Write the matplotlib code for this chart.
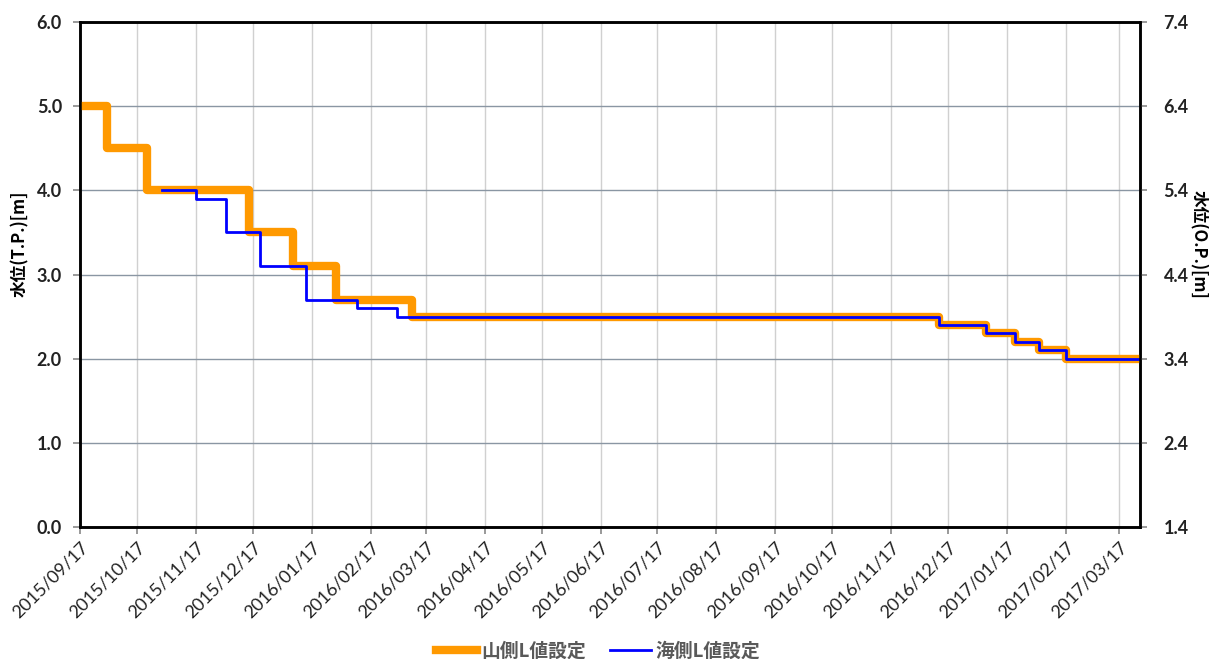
import matplotlib
matplotlib.use('Agg')
import matplotlib.pyplot as plt
import matplotlib.dates as mdates
import numpy as np
from datetime import datetime

plt.rcParams['font.family'] = ['Noto Sans CJK JP', 'DejaVu Sans']

# 山側L値設定 (step changes)
yama_dates = ['2015-09-17', '2015-10-01', '2015-10-22', '2015-12-15', '2016-01-07',
              '2016-01-30', '2016-03-10', '2016-12-12', '2017-01-06', '2017-01-21',
              '2017-02-03', '2017-02-17', '2017-03-28']
yama_vals = [5.0, 4.5, 4.0, 3.5, 3.1, 2.7, 2.5, 2.4, 2.3, 2.2, 2.1, 2.0, 2.0]

# 海側L値設定
umi_dates = ['2015-10-30', '2015-11-17', '2015-12-03', '2015-12-21', '2016-01-14',
             '2016-02-10', '2016-03-02', '2016-12-12', '2017-01-06', '2017-01-21',
             '2017-02-03', '2017-02-17', '2017-03-28']
umi_vals = [4.0, 3.9, 3.5, 3.1, 2.7, 2.6, 2.5, 2.4, 2.3, 2.2, 2.1, 2.0, 2.0]

tick_dates = ['2015-09-17', '2015-10-17', '2015-11-17', '2015-12-17', '2016-01-17',
              '2016-02-17', '2016-03-17', '2016-04-17', '2016-05-17', '2016-06-17',
              '2016-07-17', '2016-08-17', '2016-09-17', '2016-10-17', '2016-11-17',
              '2016-12-17', '2017-01-17', '2017-02-17', '2017-03-17']

op_offset = 1.4  # O.P. = T.P. + 1.4
num_font = ['Lato', 'DejaVu Sans']


def to_dt(lst):
    return [datetime.strptime(s, '%Y-%m-%d') for s in lst]


fig = plt.figure(figsize=(12.09, 6.59), dpi=100)
ax = fig.add_axes([0.0662, 0.2003, 0.8767, 0.7663])

ax.plot(to_dt(yama_dates), yama_vals, drawstyle='steps-post', color='#FF9900',
        lw=6.0, label='山側L値設定', zorder=3)
ax.plot(to_dt(umi_dates), umi_vals, drawstyle='steps-post', color='#0000FF',
        lw=2.0, label='海側L値設定', zorder=4)

ax.set_xlim(datetime(2015, 9, 17), datetime(2017, 3, 28))
ax.set_ylim(0, 6)
ax.set_yticks(np.arange(0, 6.1, 1.0))
ax.yaxis.set_major_formatter(plt.FormatStrFormatter('%.1f'))
ax.set_xticks(to_dt(tick_dates))
ax.xaxis.set_major_formatter(mdates.DateFormatter('%Y/%m/%d'))
plt.setp(ax.get_xticklabels(), rotation=45, ha='right', rotation_mode='anchor',
         fontsize=13, color='#222222', family=num_font)
plt.setp(ax.get_yticklabels(), fontsize=13, fontweight='bold', color='#222222',
         family=num_font)

ax.grid(axis='x', color='#d0d0d0', lw=1.0, zorder=0)
ax.grid(axis='y', color='#8a96a3', lw=1.0, zorder=0)
ax.set_axisbelow(True)
for s in ax.spines.values():
    s.set_linewidth(1.8)
    s.set_color('black')
ax.tick_params(axis='both', direction='out', length=5, width=1.2, color='#888888')
ax.tick_params(axis='y', pad=8)
ax.set_ylabel('水位(T.P.)[m]', fontsize=12, fontweight='bold')
ax.yaxis.set_label_coords(-0.0485, 0.56)

ax2 = ax.twinx()
ax2.set_ylim(0 + op_offset, 6 + op_offset)
ax2.set_yticks(np.arange(0, 6.1, 1.0) + op_offset)
ax2.yaxis.set_major_formatter(plt.FormatStrFormatter('%.1f'))
plt.setp(ax2.get_yticklabels(), fontsize=13, fontweight='bold', color='#222222',
         family=num_font)
ax2.tick_params(axis='y', direction='out', length=5, width=1.2, color='#888888', pad=12)
for s in ax2.spines.values():
    s.set_linewidth(1.8)
ax2.set_ylabel('水位(O.P.)[m]', fontsize=12, fontweight='bold', rotation=-90,
               va='center')
ax2.yaxis.set_label_coords(1.0545, 0.56)

leg = fig.legend(*ax.get_legend_handles_labels(), loc='center', ncol=2,
                 bbox_to_anchor=(0.4946, 0.012), frameon=False, fontsize=13.5,
                 handlelength=2.2, handletextpad=0.2, columnspacing=1.3)
for t in leg.get_texts():
    t.set_color('#595959')
    t.set_fontweight('bold')

fig.savefig('out.png', dpi=100)
